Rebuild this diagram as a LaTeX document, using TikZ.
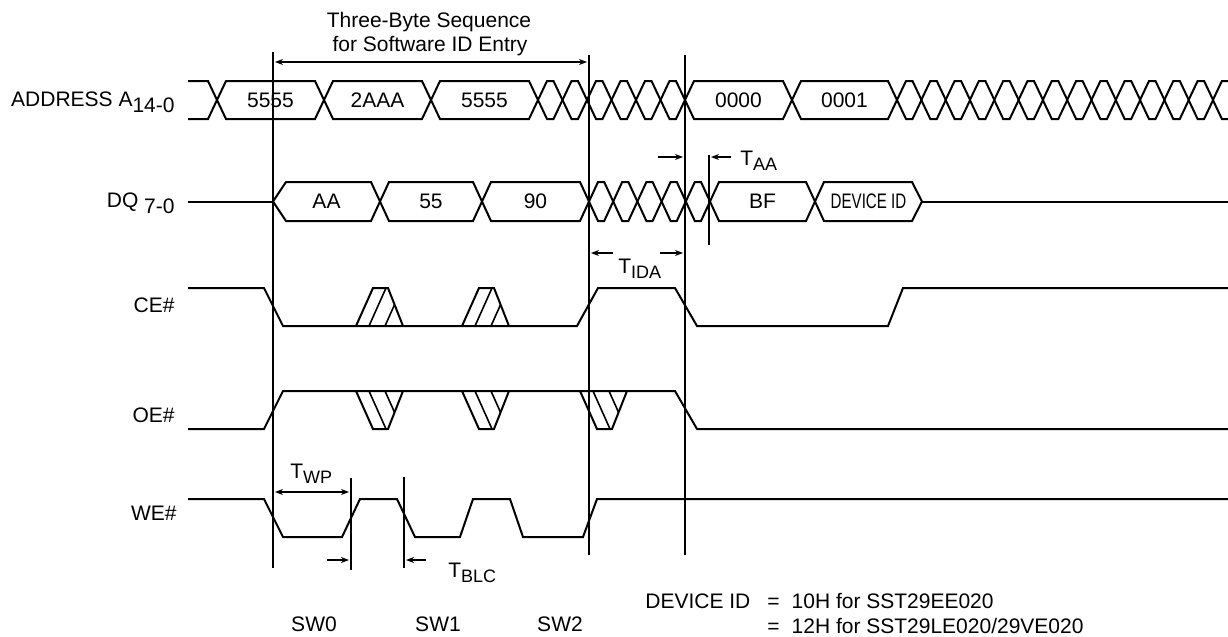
\documentclass[tikz,border=0pt]{standalone}
\usepackage{fontspec}
\setmainfont{Liberation Sans}
\usetikzlibrary{arrows.meta}
\newcommand{\lowsub}[1]{\raisebox{-3pt}{#1}}
\newcommand{\tsub}[1]{\raisebox{-2.5pt}{\fontsize{9}{10}\selectfont #1}}
\begin{document}
\begin{tikzpicture}[x=0.5pt,y=-0.5pt,
  wave/.style={line width=1pt},
  cursor/.style={line width=1pt},
  dim/.style={line width=0.6pt},
  hatch/.style={line width=0.8pt},
  txt/.style={font=\fontsize{10.5}{12.5}\selectfont, inner sep=0pt},
  >={Stealth[length=4pt,width=3pt]}]
\useasboundingbox (0,0) rectangle (1228,637);

\node[txt, anchor=base east] (addr) at (175,106) {ADDRESS A\lowsub{14-0}};
\node[txt, anchor=base east] (dq) at (175,207) {DQ \lowsub{7-0}};
\node[txt, anchor=base east] (ce) at (175,312) {CE\#};
\node[txt, anchor=base east] (oe) at (175,422) {OE\#};
\node[txt, anchor=base east] (we) at (177,520) {WE\#};

\draw[wave] (188,81) -- (208,81) -- (217,100) -- (208,119) -- (188,119);
\foreach \a/\b/\t [count=\i] in {217/324/5555,324/431/2AAA,431/538/5555,685/792/0000,792/897/0001}
{
    \draw[wave] (\a,100) -- (\a+9,81) -- (\b-9,81) -- (\b,100) -- (\b-9,119) -- (\a+9,119) -- cycle;
    \node[txt, anchor=base] (addr\i) at ({(\a+\b)/2},107) {\t};
}
\foreach \a in {538,562.5,...,661,897,921.3,...,1214}
{
    \draw[wave] (\a,100) -- (\a+9,81) -- (\a+15.5,81) -- (\a+24.5,100) -- (\a+15.5,119) -- (\a+9,119) -- cycle;
}

\draw[wave] (188,201.5) -- (273,201.5) (922,201.5) -- (1228,201.5);
\foreach \a/\b/\l/\r/\t [count=\i] in {273/380/13/9/AA,380/482/9/9/55,482/589/9/9/90,710/815/9/9/BF,815/922/9/10/{\scalebox{0.72}[1]{DEVICE ID}}}
{
    \draw[wave] (\a,201.5) -- (\a+\l,182) -- (\b-\r,182) -- (\b,201.5) -- (\b-\r,221) -- (\a+\l,221) -- cycle;
    \node[txt, anchor=base] (dq\i) at ({(\a+\b)/2},208) {\t};
}
\foreach \a in {589,613.2,...,686}
{
    \draw[wave] (\a,201.5) -- (\a+9,182) -- (\a+15.2,182) -- (\a+24.2,201.5) -- (\a+15.2,221) -- (\a+9,221) -- cycle;
}

\draw[wave] (188,288) -- (264,288) -- (283,326) -- (577,326) -- (598,288) -- (675,288) -- (697,326) -- (888,326) -- (903,288) -- (1228,288);
\foreach \a in {356,462}
{
    \begin{scope}
    \clip (\a,326) -- (\a+17,288) -- (\a+32,288) -- (\a+47,326) -- cycle;
    \draw[hatch] (\a+13,326) -- (\a+30,288) (\a+29,326) -- (\a+46,288);
    \end{scope}
    \draw[wave] (\a,326) -- (\a+17,288) -- (\a+32,288) -- (\a+47,326);
}

\draw[wave] (188,429) -- (264,429) -- (283,391) -- (675,391) -- (697,429) -- (1228,429);
\foreach \a in {356,462,580}
{
    \begin{scope}
    \clip (\a,391) -- (\a+17,429) -- (\a+32,429) -- (\a+47,391) -- cycle;
    \draw[hatch] (\a+13,391) -- (\a+30,429) (\a+29,391) -- (\a+46,429);
    \end{scope}
    \draw[wave] (\a,391) -- (\a+17,429) -- (\a+32,429) -- (\a+47,391);
}

\draw[wave] (188,499) -- (264,499) -- (283,537) -- (342,537) -- (360,499) -- (397,499) -- (415,537) -- (460,537) -- (473,499) -- (510,499) -- (523,537) -- (583,537) -- (597,499) -- (1228,499);

\draw[cursor] (273,52) -- (273,568);
\draw[cursor] (589,55) -- (589,555);
\draw[cursor] (685,55) -- (685,555);
\draw[cursor] (351,478) -- (351,570);
\draw[cursor] (404,477) -- (404,568);
\draw[cursor] (709,155) -- (709,245);

\node[txt, anchor=base] (seq1) at (429,27) {Three-Byte Sequence};
\node[txt, anchor=base] (seq2) at (430,52) {for Software ID Entry};
\draw[dim, <->] (275,62) -- (587,62);
\draw[line width=1.2pt] (393,62) -- (472,62);

\draw[dim, ->] (658,157) -- (683,157);
\draw[dim, ->] (731,157) -- (711,157);
\node[txt, anchor=base west] (taa) at (740,165) {T\tsub{AA}};

\draw[dim, ->] (613,253) -- (591,253);
\draw[dim, ->] (660,253) -- (683,253);
\node[txt, anchor=base west] (tida) at (618,273) {T\tsub{IDA}};

\draw[dim, <->] (275,492) -- (349,492);
\node[txt, anchor=base west] (twp) at (290,478) {T\tsub{WP}};
\draw[dim, ->] (327,560) -- (349,560);
\draw[dim, ->] (426,560) -- (406,560);
\node[txt, anchor=base west] (tblc) at (448,577) {T\tsub{BLC}};

\foreach \x/\xtext in {314/SW0,438/SW1,560/SW2}
{
    \node[txt, anchor=base] (\xtext) at (\x,631) {\xtext};
}
\node[txt, anchor=base west] (devid) at (645,608) {DEVICE ID};
\node[txt, anchor=base west] (ee) at (767,608) {=\hspace{6pt}10H for SST29EE020};
\node[txt, anchor=base west] (le) at (767,633) {=\hspace{6pt}12H for SST29LE020/29VE020};
\end{tikzpicture}
\end{document}
